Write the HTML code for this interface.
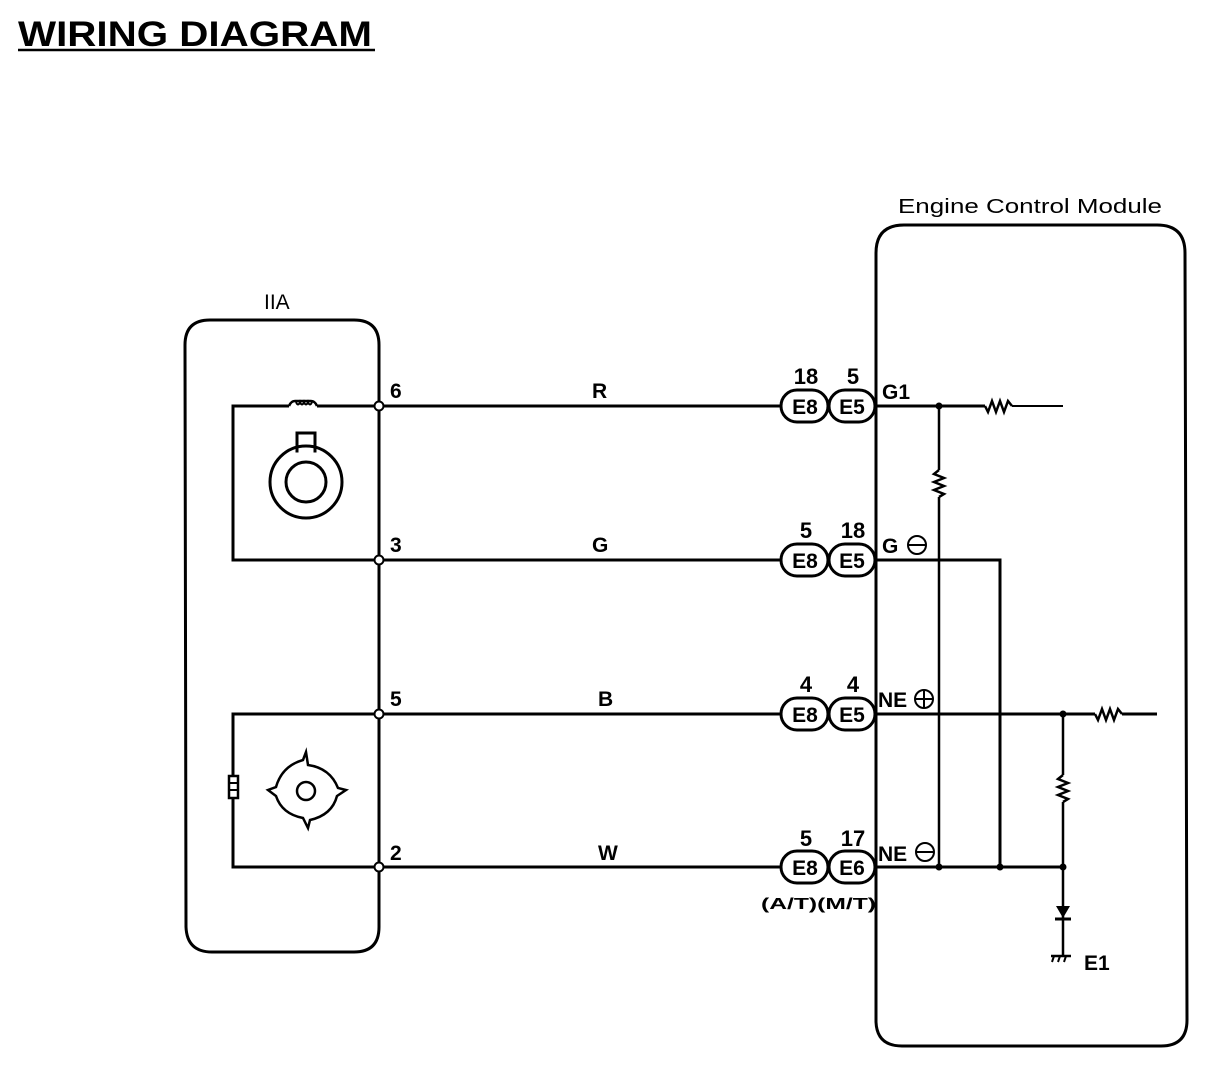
<!DOCTYPE html>
<html><head><meta charset="utf-8"><style>
html,body{margin:0;padding:0;background:#fff;}
svg{display:block;}
text{font-family:"Liberation Sans",sans-serif;font-weight:bold;fill:#000;}
</style></head><body>
<svg width="1216" height="1074" viewBox="0 0 1216 1074" xmlns="http://www.w3.org/2000/svg">
<text x="18" y="46" font-size="35" textLength="354" lengthAdjust="spacingAndGlyphs">WIRING DIAGRAM</text>
<line x1="18" y1="50" x2="375" y2="50" stroke="#000" stroke-width="2.5"/>

<!-- IIA -->
<text x="264" y="309" font-size="21" style="font-weight:normal">IIA</text>
<g fill="none" stroke="#000" stroke-width="3">
<path d="M379,927 L379,345 Q379,320 354,320 L210,320 Q185,320 185,345 L186,927 Q187,952 212,952 L354,952 Q379,952 379,927"/>
<polyline points="289,406 233,406 233,560 379,560"/>
<polyline points="379,714 233,714 233,867 379,867"/>
<path d="M289,406 q2,-5 6,-5 l16,0 q4,0 6,5" stroke-width="2.5"/>
<path d="M317,406 L379,406"/>
<path d="M296,402 q2,5 4,0 q2,5 4,0 q2,5 4,0 q2,5 4,0" stroke-width="2"/>
<circle cx="306" cy="791" r="9" stroke-width="2.5"/>
<path d="M303,760 L306,752 L308,765 Q330,768 338,788 L346,790 L337,796 Q332,815 310,820 L308,828 L303,818 Q282,814 276,796 L268,790 L276,787 Q282,766 303,760 Z" stroke-width="2.5"/>
</g>
<rect x="297" y="433" width="18" height="18" fill="#fff" stroke="#000" stroke-width="3"/>
<circle cx="306" cy="482" r="36" fill="none" stroke="#000" stroke-width="3"/>
<circle cx="306" cy="482" r="20" fill="none" stroke="#000" stroke-width="3"/>
<rect x="298.5" y="449" width="15" height="6" fill="#fff"/>
<rect x="229" y="776" width="9" height="22" fill="#fff" stroke="#000" stroke-width="2.5"/>
<line x1="229" y1="783" x2="238" y2="783" stroke="#000" stroke-width="2"/>
<line x1="229" y1="790" x2="238" y2="790" stroke="#000" stroke-width="2"/>

<!-- wires -->
<g stroke="#000" stroke-width="3">
<line x1="379" y1="406" x2="782" y2="406"/>
<line x1="379" y1="560" x2="782" y2="560"/>
<line x1="379" y1="714" x2="782" y2="714"/>
<line x1="379" y1="867" x2="782" y2="867"/>
</g>
<g fill="#fff" stroke="#000" stroke-width="2">
<circle cx="379" cy="406" r="4.5"/><circle cx="379" cy="560" r="4.5"/>
<circle cx="379" cy="714" r="4.5"/><circle cx="379" cy="867" r="4.5"/>
</g>
<g font-size="21">
<text x="390" y="398">6</text><text x="390" y="552">3</text>
<text x="390" y="706">5</text><text x="390" y="860">2</text>
<text x="592" y="398">R</text><text x="592" y="552">G</text>
<text x="598" y="706">B</text><text x="598" y="860">W</text>
</g>

<!-- connectors -->
<g fill="#fff" stroke="#000" stroke-width="3">
<rect x="781" y="390" width="47" height="32" rx="16"/><rect x="829" y="390" width="46" height="32" rx="16"/>
<rect x="781" y="544" width="47" height="32" rx="16"/><rect x="829" y="544" width="46" height="32" rx="16"/>
<rect x="781" y="698" width="47" height="32" rx="16"/><rect x="829" y="698" width="46" height="32" rx="16"/>
<rect x="781" y="851" width="47" height="32" rx="16"/><rect x="829" y="851" width="46" height="32" rx="16"/>
</g>
<g font-size="21" text-anchor="middle">
<text x="805" y="414">E8</text><text x="852" y="414">E5</text>
<text x="805" y="568">E8</text><text x="852" y="568">E5</text>
<text x="805" y="722">E8</text><text x="852" y="722">E5</text>
<text x="805" y="875">E8</text><text x="852" y="875">E6</text>
</g>
<g font-size="22" text-anchor="middle">
<text x="806" y="384">18</text><text x="853" y="384">5</text>
<text x="806" y="538">5</text><text x="853" y="538">18</text>
<text x="806" y="692">4</text><text x="853" y="692">4</text>
<text x="806" y="846">5</text><text x="853" y="846">17</text>
</g>
<text x="761" y="909" font-size="16" textLength="115" lengthAdjust="spacingAndGlyphs">(A/T)(M/T)</text>

<!-- ECM -->
<text x="898" y="213" font-size="20" style="font-weight:normal" textLength="264" lengthAdjust="spacingAndGlyphs">Engine Control Module</text>
<path d="M876,1022 L876,253 Q876,225 904,225 L1157,225 Q1185,225 1185,253 L1187,1020 Q1187,1046 1161,1046 L902,1046 Q877,1046 876,1022" fill="none" stroke="#000" stroke-width="3"/>
<g font-size="21">
<text x="882" y="399">G1</text>
<text x="882" y="553">G</text>
<text x="878" y="707">NE</text>
<text x="878" y="861">NE</text>
</g>
<g fill="none" stroke="#000" stroke-width="2">
<circle cx="917" cy="545" r="9"/><line x1="909" y1="545" x2="925" y2="545"/>
<circle cx="924" cy="699" r="9"/><line x1="915" y1="699" x2="933" y2="699"/><line x1="924" y1="690" x2="924" y2="708"/>
<circle cx="925" cy="852" r="9"/><line x1="917" y1="852" x2="933" y2="852"/>
</g>
<g fill="none" stroke="#000" stroke-width="3">
<line x1="876" y1="406" x2="985" y2="406"/>
<polyline points="985,406 988,412 992,401 996,412 1000,401 1004,412 1008,401 1012,406" stroke-width="2.5"/>
<line x1="1012" y1="406" x2="1063" y2="406" stroke-width="2"/>
<line x1="939" y1="406" x2="939" y2="470" stroke-width="2.5"/>
<polyline points="939,470 934,474 944,478 934,482 944,486 934,490 944,494 939,497" stroke-width="2.5"/>
<line x1="939" y1="497" x2="939" y2="867" stroke-width="2.5"/>
<polyline points="876,560 1000,560 1000,867"/>
<line x1="876" y1="714" x2="1095" y2="714"/>
<polyline points="1095,714 1098,720 1102,709 1106,720 1110,709 1114,720 1118,709 1122,714" stroke-width="2.5"/>
<line x1="1122" y1="714" x2="1157" y2="714"/>
<line x1="1063" y1="714" x2="1063" y2="775" stroke-width="2.5"/>
<polyline points="1063,775 1058,779 1068,783 1058,787 1068,791 1058,795 1068,799 1063,802" stroke-width="2.5"/>
<line x1="1063" y1="802" x2="1063" y2="955" stroke-width="2.5"/>
<line x1="876" y1="867" x2="1063" y2="867"/>
<line x1="1051" y1="956" x2="1071" y2="956" stroke-width="2.5"/>
<line x1="1054" y1="956" x2="1052" y2="962" stroke-width="2"/>
<line x1="1060" y1="956" x2="1058" y2="962" stroke-width="2"/>
<line x1="1066" y1="956" x2="1064" y2="962" stroke-width="2"/>
</g>
<polygon points="1056,906 1070,906 1063,918" fill="#000"/>
<line x1="1055" y1="919" x2="1071" y2="919" stroke="#000" stroke-width="3"/>
<g fill="#000">
<circle cx="939" cy="406" r="3.5"/><circle cx="939" cy="867" r="3.5"/>
<circle cx="1000" cy="867" r="3.5"/><circle cx="1063" cy="867" r="3.5"/>
<circle cx="1063" cy="714" r="3.5"/>
</g>
<text x="1084" y="970" font-size="21">E1</text>
</svg>
</body></html>
